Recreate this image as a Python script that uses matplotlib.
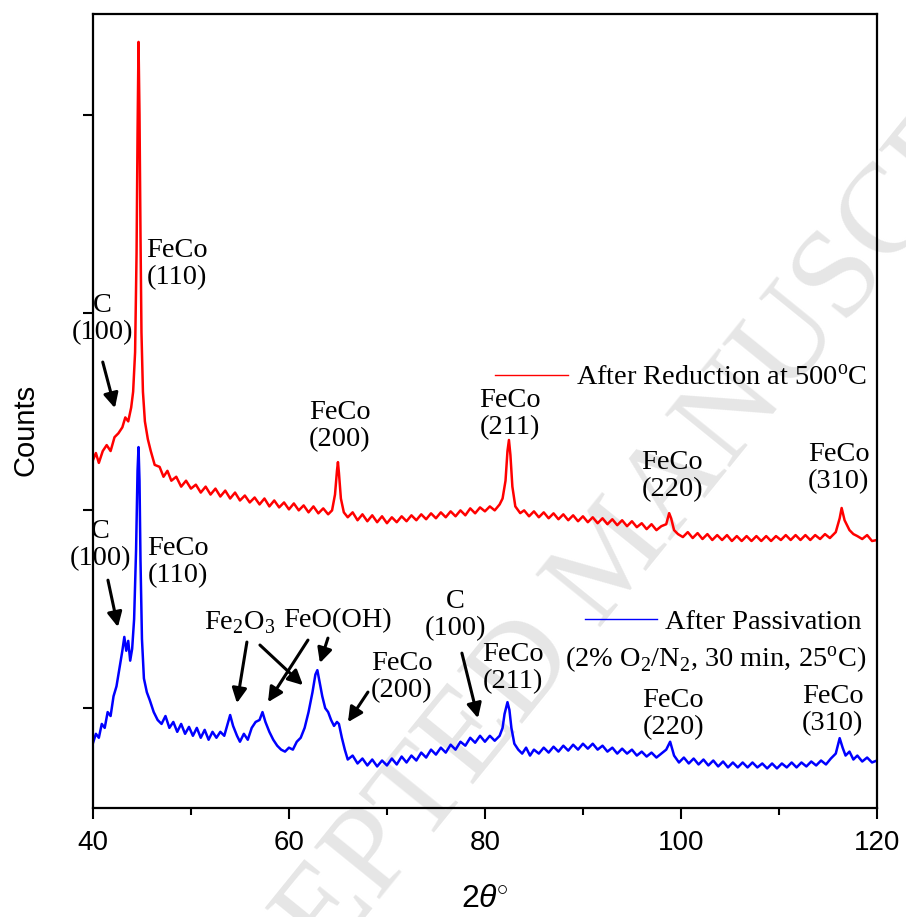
import matplotlib
matplotlib.use("Agg")
import matplotlib.pyplot as plt

# XRD patterns (2theta in degrees, counts in arbitrary units)
x_red = [40.0, 40.3, 40.6, 41.0, 41.4, 41.8, 42.2, 42.6, 43.0, 43.3, 43.6, 43.9, 44.1, 44.3,
         44.45, 44.55, 44.65, 44.75, 44.85, 44.95, 45.1, 45.3, 45.6, 45.9, 46.3, 46.8, 47.2,
         47.6, 48.0, 48.5, 49.0, 49.5, 50.0, 50.5, 51.0, 51.5, 52.0, 52.5, 53.0, 53.5, 54.0,
         54.5, 55.0, 55.5, 56.0, 56.5, 57.0, 57.5, 58.0, 58.5, 59.0, 59.5, 60.0, 60.5, 61.0,
         61.5, 62.0, 62.5, 63.0, 63.5, 64.0, 64.4, 64.7, 64.9, 65.0, 65.1, 65.3, 65.6, 66.0,
         66.5, 67.0, 67.5, 68.0, 68.5, 69.0, 69.5, 70.0, 70.5, 71.0, 71.5, 72.0, 72.5, 73.0,
         73.5, 74.0, 74.5, 75.0, 75.5, 76.0, 76.5, 77.0, 77.5, 78.0, 78.5, 79.0, 79.5, 80.0,
         80.5, 81.0, 81.5, 81.8, 82.1, 82.3, 82.45, 82.6, 82.8, 83.1, 83.6, 84.0, 84.5, 85.0,
         85.5, 86.0, 86.5, 87.0, 87.5, 88.0, 88.5, 89.0, 89.5, 90.0, 90.5, 91.0, 91.5, 92.0,
         92.5, 93.0, 93.5, 94.0, 94.5, 95.0, 95.5, 96.0, 96.5, 97.0, 97.5, 98.0, 98.5, 98.8,
         99.0, 99.3, 99.7, 100.2, 100.7, 101.2, 101.7, 102.2, 102.7, 103.2, 103.7, 104.2,
         104.7, 105.2, 105.7, 106.2, 106.7, 107.2, 107.7, 108.2, 108.7, 109.2, 109.7, 110.2,
         110.7, 111.2, 111.7, 112.2, 112.7, 113.2, 113.7, 114.2, 114.7, 115.2, 115.8, 116.2,
         116.4, 116.7, 117.2, 117.6, 118.0, 118.5, 119.0, 119.5, 120.0]
y_red = [2254, 2290, 2240, 2300, 2330, 2300, 2370, 2390, 2420, 2470, 2450, 2520, 2600, 2800,
         3300, 3900, 4369, 4000, 3400, 2900, 2600, 2450, 2360, 2300, 2230, 2220, 2170,
         2200, 2150, 2170, 2120, 2150, 2110, 2130, 2090, 2120, 2080, 2110, 2070, 2100, 2060,
         2090, 2050, 2075, 2040, 2065, 2030, 2060, 2020, 2050, 2015, 2040, 2005, 2035, 2000,
         2025, 1990, 2020, 1985, 2010, 1980, 2000, 2080, 2200, 2244, 2190, 2060, 1990, 1965,
         1990, 1950, 1980, 1945, 1975, 1940, 1970, 1935, 1965, 1940, 1970, 1945, 1975, 1950,
         1980, 1955, 1985, 1960, 1990, 1965, 1995, 1970, 2000, 1975, 2010, 1985, 2015, 1995,
         2020, 2000, 2030, 2060, 2150, 2300, 2356, 2280, 2120, 2020, 1986, 2000, 1970, 1995,
         1965, 1990, 1960, 1985, 1955, 1980, 1950, 1975, 1945, 1970, 1940, 1965, 1935, 1960,
         1930, 1955, 1925, 1950, 1920, 1945, 1915, 1935, 1905, 1930, 1900, 1920, 1930, 1986,
         1960, 1900, 1880, 1865, 1890, 1860, 1885, 1855, 1880, 1850, 1875, 1850, 1875,
         1845, 1870, 1845, 1870, 1845, 1870, 1845, 1870, 1845, 1870, 1850,
         1875, 1850, 1875, 1850, 1875, 1850, 1875, 1855, 1880, 1860, 1890, 1960,
         2012, 1950, 1900, 1880, 1870, 1855, 1875, 1845, 1850]

x_blue = [40.0, 40.3, 40.6, 40.9, 41.2, 41.5, 41.8, 42.1, 42.4, 42.7, 43.0, 43.2, 43.4, 43.6,
          43.8, 44.0, 44.2, 44.4, 44.55, 44.65, 44.75, 44.85, 45.0, 45.2, 45.5, 45.8, 46.2,
          46.6, 47.0, 47.4, 47.8, 48.2, 48.6, 49.0, 49.4, 49.8, 50.2, 50.6, 51.0, 51.4, 51.8,
          52.2, 52.6, 53.0, 53.4, 53.8, 54.0, 54.3, 54.7, 55.0, 55.4, 55.8, 56.2, 56.6, 57.0,
          57.3, 57.6, 58.0, 58.4, 58.8, 59.2, 59.6, 60.0, 60.4, 60.8, 61.2, 61.6, 62.0, 62.4,
          62.7, 62.9, 63.1, 63.4, 63.7, 64.0, 64.3, 64.6, 64.9, 65.1, 65.4, 65.7, 66.0, 66.5,
          67.0, 67.5, 68.0, 68.5, 69.0, 69.5, 70.0, 70.5, 71.0, 71.5, 72.0, 72.5, 73.0, 73.5,
          74.0, 74.5, 75.0, 75.5, 76.0, 76.5, 77.0, 77.5, 78.0, 78.5, 79.0, 79.5, 80.0, 80.5,
          81.0, 81.5, 81.8, 82.0, 82.3, 82.5, 82.7, 83.0, 83.4, 83.8, 84.2, 84.6, 85.0, 85.5,
          86.0, 86.5, 87.0, 87.5, 88.0, 88.5, 89.0, 89.5, 90.0, 90.5, 91.0, 91.5, 92.0, 92.5,
          93.0, 93.5, 94.0, 94.5, 95.0, 95.5, 96.0, 96.5, 97.0, 97.5, 98.0, 98.5, 98.9, 99.3,
          99.8, 100.3, 100.8, 101.3, 101.8, 102.3, 102.8, 103.3, 103.8, 104.3, 104.8, 105.3,
          105.8, 106.3, 106.8, 107.3, 107.8, 108.3, 108.8, 109.3, 109.8, 110.3, 110.8, 111.3,
          111.8, 112.3, 112.8, 113.3, 113.8, 114.3, 114.8, 115.3, 115.8, 116.2, 116.5, 116.8,
          117.2, 117.6, 118.0, 118.5, 119.0, 119.5, 120.0]
y_blue = [823, 870, 850, 920, 900, 980, 960, 1060, 1110, 1200, 1290, 1360, 1290, 1340,
          1240, 1300, 1450, 1800, 2200, 2320, 2150, 1750, 1350, 1150, 1080, 1040, 980,
          940, 920, 960, 900, 930, 880, 920, 870, 905, 860, 900, 850, 890, 840,
          880, 850, 880, 860, 930, 965, 910, 860, 830, 870, 840, 900, 930, 940,
          980, 930, 880, 840, 810, 790, 780, 800, 790, 830, 850, 900, 980, 1080,
          1170, 1192, 1140, 1060, 1000, 980, 940, 910, 930, 920, 850, 790, 740, 760,
          720, 745, 710, 740, 705, 735, 710, 745, 715, 755, 725, 760, 735, 775,
          750, 790, 765, 800, 775, 815, 790, 830, 810, 850, 825, 860, 830, 860,
          835, 860, 900, 970, 1030, 990, 900, 820, 790, 770, 800, 760, 790, 770,
          800, 775, 805, 780, 810, 785, 815, 790, 820, 795, 820, 790, 810, 780,
          800, 770, 795, 770, 790, 760, 780, 755, 775, 750, 770, 790, 830, 760,
          725, 750, 720, 745, 715, 740, 710, 735, 705, 730, 700, 725,
          700, 725, 700, 725, 700, 720, 695, 720, 695, 720, 700, 725,
          700, 725, 705, 730, 710, 735, 715, 745, 770, 848, 800, 760,
          780, 740, 760, 730, 750, 725, 735]

red_label = "After Reduction at 500$^{\\rm o}$C"
blue_label = "After Passivation"
blue_label2 = "(2% O$_2$/N$_2$, 30 min, 25$^{\\rm o}$C)"

# peak labels: (text, x, y) for each pattern
red_peaks = [("FeCo\n(110)", 48.6, 3246), ("C\n(100)", 41.0, 2968),
             ("FeCo\n(200)", 65.2, 2426), ("FeCo\n(211)", 82.55, 2487),
             ("FeCo\n(220)", 99.1, 2173), ("FeCo\n(310)", 116.1, 2214)]
blue_peaks = [("C\n(100)", 40.8, 1824), ("FeCo\n(110)", 48.7, 1738),
              ("Fe$_2$O$_3$", 55.0, 1430), ("FeO(OH)", 64.9, 1445),
              ("FeCo\n(200)", 71.5, 1157), ("C\n(100)", 77.0, 1470),
              ("FeCo\n(211)", 82.9, 1202), ("FeCo\n(220)", 99.2, 970),
              ("FeCo\n(310)", 115.5, 990)]
# arrows: (tail x, tail y, head x, head y)
arrows = [(41.0, 2750, 42.24, 2517), (41.53, 1647, 42.55, 1410),
          (55.71, 1334, 54.69, 1025), (57.04, 1319, 61.43, 1116),
          (61.94, 1344, 57.86, 1030), (63.98, 1354, 63.16, 1228),
          (68.06, 1081, 66.02, 929), (77.65, 1278, 79.29, 949)]

plt.rcParams['font.family'] = ['Liberation Serif', 'DejaVu Serif']
plt.rcParams['mathtext.fontset'] = 'custom'
plt.rcParams['mathtext.rm'] = 'Liberation Serif'
plt.rcParams['mathtext.it'] = 'Liberation Sans:italic'

fig = plt.figure(figsize=(9.06, 9.17), dpi=100)
ax = fig.add_axes([0.1026, 0.1189, 0.8653, 0.8658])

# watermark, kept underneath the axes
fig.text(0.68, 0.39, "ACCEPTED MANUSCRIPT", fontsize=92, color='#e6e6e6',
         rotation=51, ha='center', va='center', zorder=-1)
ax.patch.set_alpha(0)

l1, = ax.plot(x_red, y_red, color='#ff0000', lw=1.8)
l2, = ax.plot(x_blue, y_blue, color='#0000ff', lw=1.8)

fs = 20.4
for t, x, y in red_peaks + blue_peaks:
    ax.text(x, y, t, fontsize=fs, ha='center', va='center', linespacing=1.12)
for x0, y0, x1, y1 in arrows:
    ax.annotate("", xy=(x1, y1), xytext=(x0, y0),
                arrowprops=dict(arrowstyle='-|>', color='k', lw=2.2, mutation_scale=22,
                                shrinkA=0, shrinkB=0))

leg1 = ax.legend([l1], [red_label], loc='center left', bbox_to_anchor=(81.0, 2669),
                 bbox_transform=ax.transData, frameon=False, fontsize=fs,
                 handlelength=2.6, handletextpad=0.28, borderpad=0, borderaxespad=0)
for h in leg1.get_lines():
    h.set_linewidth(1.0)
ax.add_artist(leg1)
leg2 = ax.legend([l2], [blue_label], loc='center left', bbox_to_anchor=(90.2, 1435),
                 bbox_transform=ax.transData, frameon=False, fontsize=fs,
                 handlelength=2.55, handletextpad=0.28, borderpad=0, borderaxespad=0)
for h in leg2.get_lines():
    h.set_linewidth(1.0)
ax.text(118.9, 1243, blue_label2, fontsize=fs, ha='right', va='center')

ax.set_xlim(40, 120)
ax.set_ylim(495, 4510)
ax.set_xticks([40, 60, 80, 100, 120])
ax.set_xticks([50, 70, 90, 110], minor=True)
ax.set_yticks([1000, 2000, 3000, 4000])
ax.set_yticklabels([])
ax.tick_params(axis='x', which='major', direction='out', length=8, width=1.5,
               labelsize=20, pad=8, top=False)
ax.tick_params(axis='x', which='minor', direction='out', length=5, width=1.5, top=False)
ax.tick_params(axis='y', direction='out', length=7, width=1.5, right=False)
for lab in ax.get_xticklabels():
    lab.set_family('Liberation Sans')
for s in ax.spines.values():
    s.set_linewidth(1.6)

ax.set_ylabel("Counts", fontsize=21, family='Liberation Sans')
ax.yaxis.set_label_coords(-0.068, 0.476)
ax.set_xlabel("2$\\theta$$^{\\circ}$", fontsize=23, family='Liberation Sans')
ax.xaxis.set_label_coords(0.5, -0.096)

fig.savefig("out.png", dpi=100)
